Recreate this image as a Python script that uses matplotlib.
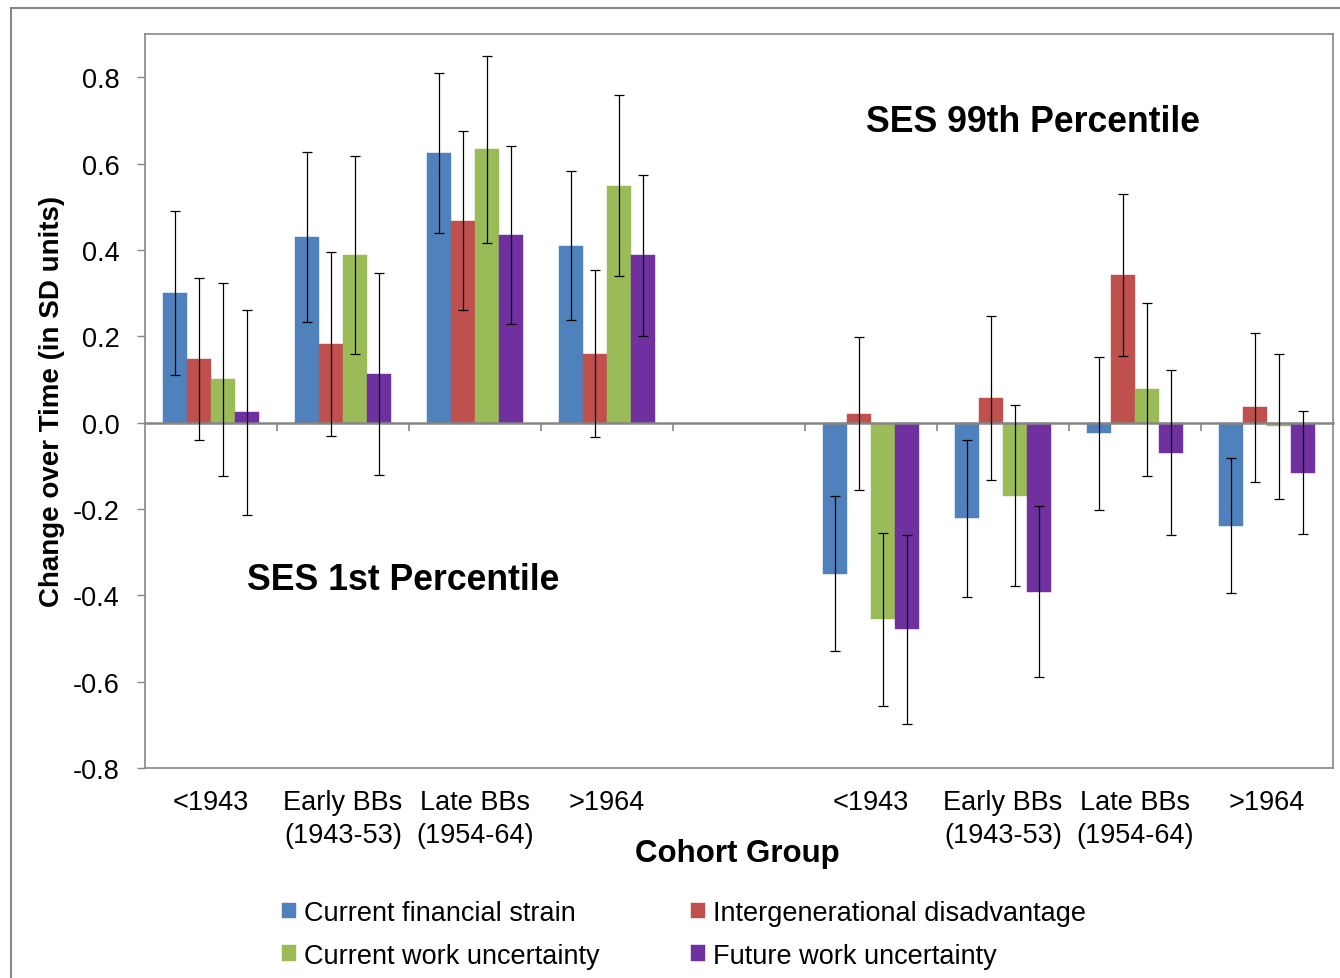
import numpy as np
import matplotlib
matplotlib.use("Agg")
import matplotlib.pyplot as plt
from matplotlib.patches import Rectangle

plt.rcParams['font.family'] = ['Liberation Sans', 'DejaVu Sans']

categories = ["<1943", "Early BBs\n(1943-53)", "Late BBs\n(1954-64)", ">1964", "",
              "<1943", "Early BBs\n(1943-53)", "Late BBs\n(1954-64)", ">1964"]
series_names = ["Current financial strain", "Intergenerational disadvantage",
                "Current work uncertainty", "Future work uncertainty"]
nan = np.nan
financial = [0.300, 0.430, 0.625, 0.410, nan, -0.350, -0.222, -0.025, -0.239]
financial_err = [0.190, 0.196, 0.185, 0.173, nan, 0.180, 0.182, 0.178, 0.156]
intergen = [0.147, 0.182, 0.468, 0.160, nan, 0.021, 0.056, 0.342, 0.035]
intergen_err = [0.187, 0.213, 0.208, 0.193, nan, 0.178, 0.190, 0.187, 0.172]
work_now = [0.100, 0.388, 0.633, 0.549, nan, -0.456, -0.169, 0.077, -0.009]
work_now_err = [0.224, 0.230, 0.217, 0.210, nan, 0.200, 0.209, 0.200, 0.169]
work_future = [0.024, 0.113, 0.435, 0.387, nan, -0.479, -0.392, -0.070, -0.116]
work_future_err = [0.237, 0.234, 0.206, 0.186, nan, 0.219, 0.198, 0.191, 0.143]
y_ticks = [-0.8, -0.6, -0.4, -0.2, 0.0, 0.2, 0.4, 0.6, 0.8]

colors = ["#4F81BD", "#C0504D", "#9BBB59", "#7030A0"]
values = [financial, intergen, work_now, work_future]
errors = [financial_err, intergen_err, work_now_err, work_future_err]

W, H = 1340, 979
fig = plt.figure(figsize=(W / 100, H / 100), dpi=100)
ax = fig.add_axes([145 / W, 1 - 769 / H, 1188 / W, 734 / H])

gray = "#868686"
fs = 19.5
x = np.arange(len(categories))
bw = 0.182
handles = []
for i, (v, e, c) in enumerate(zip(values, errors, colors)):
    pos = x + (i - 1.5) * bw
    b = ax.bar(pos, v, width=bw, color=c, edgecolor=c, linewidth=0.3, zorder=2,
               label=series_names[i])
    handles.append(b)
    ax.errorbar(pos, v, yerr=e, fmt='none', ecolor='black', elinewidth=0.9,
                capsize=3.6, capthick=0.9, zorder=4)

ymin, ymax = -0.8, 0.9
ax.set_ylim(ymin, ymax)
ax.set_xlim(-0.5, len(categories) - 0.5)
ax.set_yticks(y_ticks)
ax.set_yticklabels([f"{t:.1f}" for t in y_ticks], fontsize=fs)
ax.set_xticks(x)
ax.set_xticklabels(categories, fontsize=fs, linespacing=1.35)
ax.tick_params(axis='x', length=0, pad=15)
ax.tick_params(axis='y', length=5.5, color=gray, width=1, pad=13)
for s in ax.spines.values():
    s.set_color(gray)
    s.set_linewidth(1.2)

# zero axis with category-boundary ticks
zero_loc = (0 - ymin) / (ymax - ymin)
sec = ax.secondary_xaxis(zero_loc)
sec.set_xticks(np.arange(0.5, len(categories) - 1, 1.0))
sec.tick_params(axis='x', length=6, direction='out', color=gray, width=1.2,
                labelbottom=False, labeltop=False)
sec.spines['bottom'].set_color(gray)
sec.spines['bottom'].set_linewidth(1.8)
sec.spines['top'].set_visible(False)
sec.set_zorder(3)

ax.text((1033 - 145) / 1188, 1 - (123 - 35) / 734, "SES 99th Percentile",
        transform=ax.transAxes, ha='center', va='center', fontsize=25.7, fontweight='bold')
ax.text((403 - 145) / 1188, 1 - (580 - 35) / 734, "SES 1st Percentile",
        transform=ax.transAxes, ha='center', va='center', fontsize=25.7, fontweight='bold')

fig.text(52 / W, 1 - 401 / H, "Change over Time (in SD units)", rotation=90,
         ha='center', va='center', fontsize=20, fontweight='bold')
fig.text(737 / W, 1 - 854 / H, "Cohort Group", ha='center', va='center',
         fontsize=22.5, fontweight='bold')

order = [0, 2, 1, 3]
leg = fig.legend([handles[k] for k in order], [series_names[k] for k in order],
                 ncol=2, loc='upper left', bbox_to_anchor=(282 / W, 1 - 901 / H),
                 frameon=False, fontsize=fs, handlelength=0.5, handleheight=0.5,
                 handletextpad=0.3, columnspacing=3.4, labelspacing=0.62,
                 borderpad=0, borderaxespad=0)

fig.patches.append(Rectangle((11 / W, -0.05), 1.2, (979 - 9) / H + 0.05,
                             transform=fig.transFigure, fill=False,
                             edgecolor=gray, linewidth=1.5, zorder=0))

fig.savefig("out.png", dpi=100)
